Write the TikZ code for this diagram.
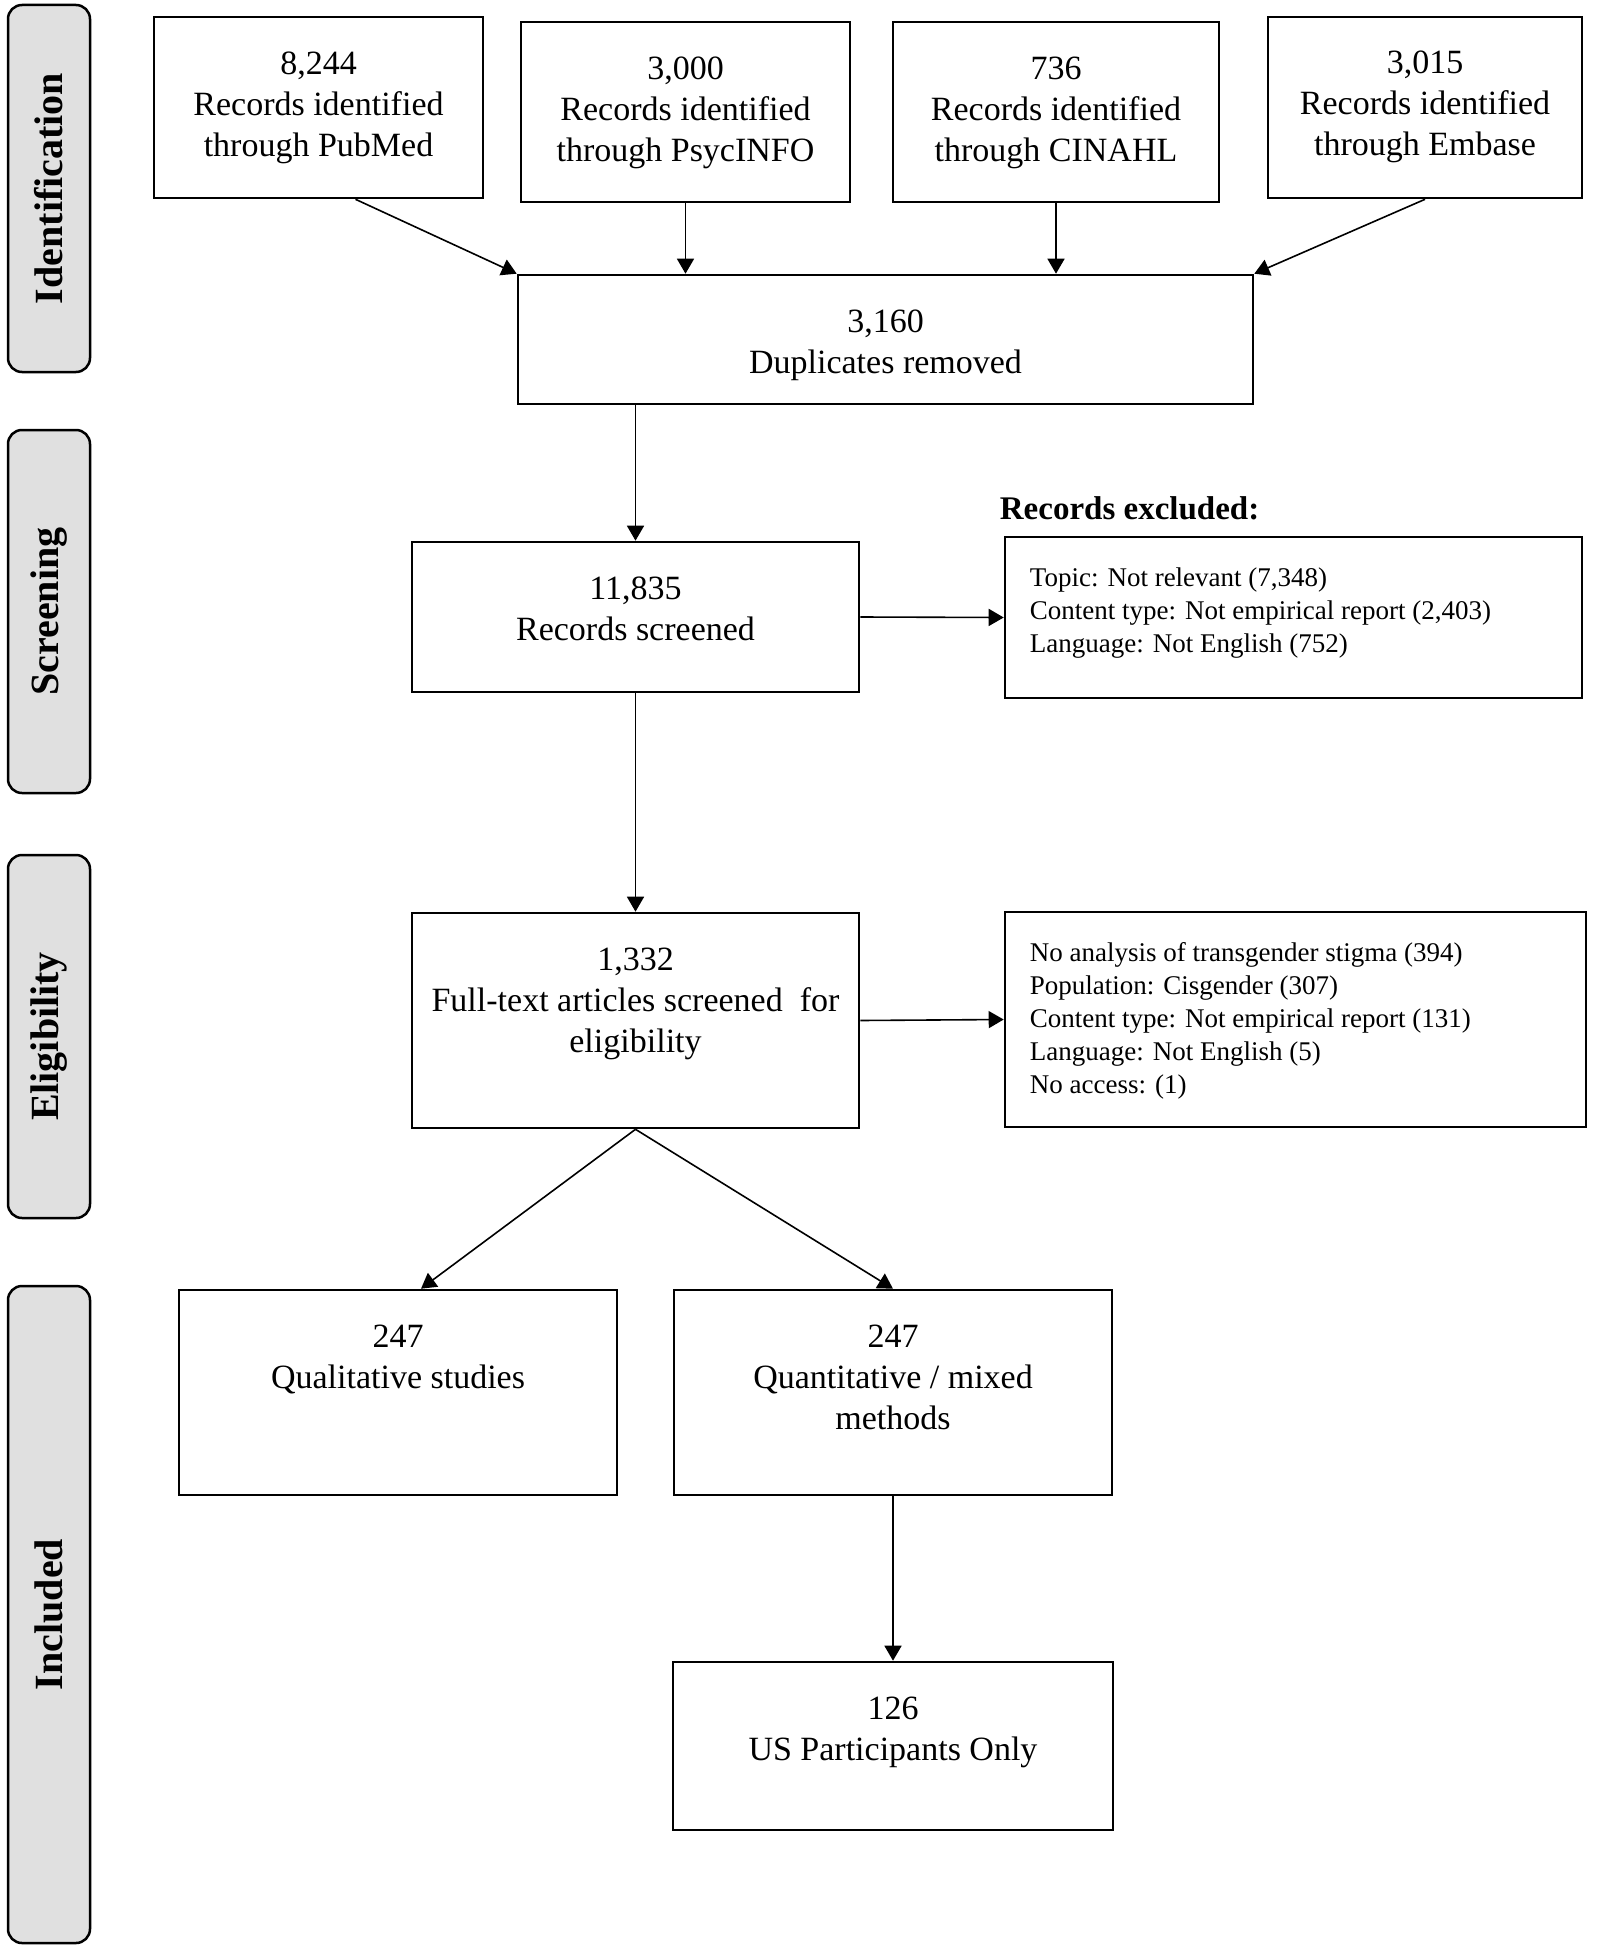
\documentclass[tikz,border=0pt]{standalone}
\usepackage{fontspec}
\setmainfont{Liberation Serif}
\usetikzlibrary{positioning,calc,arrows.meta}
\tikzset{>={Triangle[length=15pt,width=17pt]},
  stage/.style={draw,line width=2.5pt,rounded corners=14pt,fill=black!12,rotate=90,
    minimum height=82pt,inner sep=0pt,font=\fontsize{40}{46}\selectfont\bfseries},
  box/.style={draw,line width=2.6pt,inner sep=0pt},
  boxtxt/.style={align=center,inner sep=0pt,font=\fontsize{34}{41}\selectfont},
  exctxt/.style={align=left,inner sep=0pt,font=\fontsize{27}{33}\selectfont},
  flow/.style={->,line width=1.6pt}}

\begin{document}
\begin{tikzpicture}[x=1pt,y=-1pt]
\useasboundingbox (0,0) rectangle (1596,1950);
\node[stage,minimum width=367pt] (ident) at (49,188.5) {Identification};
\node[stage,minimum width=363pt] (screen) at (49,611.5) {Screening};
\node[stage,minimum width=363pt] (elig) at (49,1036.5) {Eligibility};
\node[stage,minimum width=657pt] (incl) at (49,1614.5) {Included};

\node[box,minimum width=329pt,minimum height=181pt] (pubmed) at (318.5,107.5) {};
\node[boxtxt,below=36pt of pubmed.north] (pubmedtxt) {8,244\\Records identified\\through PubMed};
\node[box,minimum width=329pt,minimum height=180pt] (psyc) at (685.5,112) {};
\node[boxtxt,below=36pt of psyc.north] (psyctxt) {3,000\\Records identified\\through PsycINFO};
\node[box,minimum width=326pt,minimum height=180pt] (cinahl) at (1056,112) {};
\node[boxtxt,below=36pt of cinahl.north] (cinahltxt) {736\\Records identified\\through CINAHL};
\node[box,minimum width=314pt,minimum height=181pt] (embase) at (1425,107.5) {};
\node[boxtxt,below=35pt of embase.north] (embasetxt) {3,015\\Records identified\\through Embase};

\node[box,minimum width=735pt,minimum height=129pt] (dup) at (885.5,339.5) {};
\node[boxtxt,below=36pt of dup.north] (duptxt) {3,160\\Duplicates removed};

\node[box,minimum width=447pt,minimum height=150pt] (screened) at (635.5,617) {};
\node[boxtxt,below=36pt of screened.north] (screenedtxt) {11,835\\Records screened};
\node[box,minimum width=577pt,minimum height=161pt] (excla) at (1293.5,617.5) {};
\node[exctxt,below right=32pt and 26pt of excla.north west] (exclatxt) {Topic: Not relevant (7,348)\\Content type: Not empirical report (2,403)\\Language: Not English (752)};
\node[inner sep=0pt,font=\fontsize{33}{40}\selectfont\bfseries,above right=16pt and -4pt of excla.north west] (exclhead) {Records excluded:};

\node[box,minimum width=447pt,minimum height=215pt] (fulltext) at (635.5,1020.5) {};
\node[boxtxt,below=36pt of fulltext.north] (fulltexttxt) {1,332\\Full-text articles screened\ \ for\\eligibility};
\node[box,minimum width=581pt,minimum height=215pt] (exclb) at (1295.5,1019.5) {};
\node[exctxt,below right=32pt and 26pt of exclb.north west] (exclbtxt) {No analysis of transgender stigma (394)\\Population: Cisgender (307)\\Content type: Not empirical report (131)\\Language: Not English (5)\\No access: (1)};

\node[box,minimum width=438pt,minimum height=205pt] (qual) at (398,1392.5) {};
\node[boxtxt,below=36pt of qual.north] (qualtxt) {247\\Qualitative studies};
\node[box,minimum width=438pt,minimum height=205pt] (quant) at (893,1392.5) {};
\node[boxtxt,below=36pt of quant.north] (quanttxt) {247\\Quantitative / mixed\\methods};
\node[box,minimum width=440pt,minimum height=168pt] (us) at (893,1746) {};
\node[boxtxt,below=36pt of us.north] (ustxt) {126\\US Participants Only};

\draw[flow] ([xshift=37pt]pubmed.south) -- (dup.north west);
\draw[flow] (psyc.south) -- (psyc.south |- dup.north);
\draw[flow] (cinahl.south) -- (cinahl.south |- dup.north);
\draw[flow] (embase.south) -- (dup.north east);
\draw[flow] (screened.north |- dup.south) -- (screened.north);
\draw[flow] (screened.east) -- (excla.west);
\draw[flow] (screened.south) -- (fulltext.north);
\draw[flow] (fulltext.east) -- (exclb.west);
\draw[flow] (fulltext.south) -- ([xshift=23pt]qual.north);
\draw[flow] (fulltext.south) -- (quant.north);
\draw[flow] (quant.south) -- (us.north);
\end{tikzpicture}
\end{document}
